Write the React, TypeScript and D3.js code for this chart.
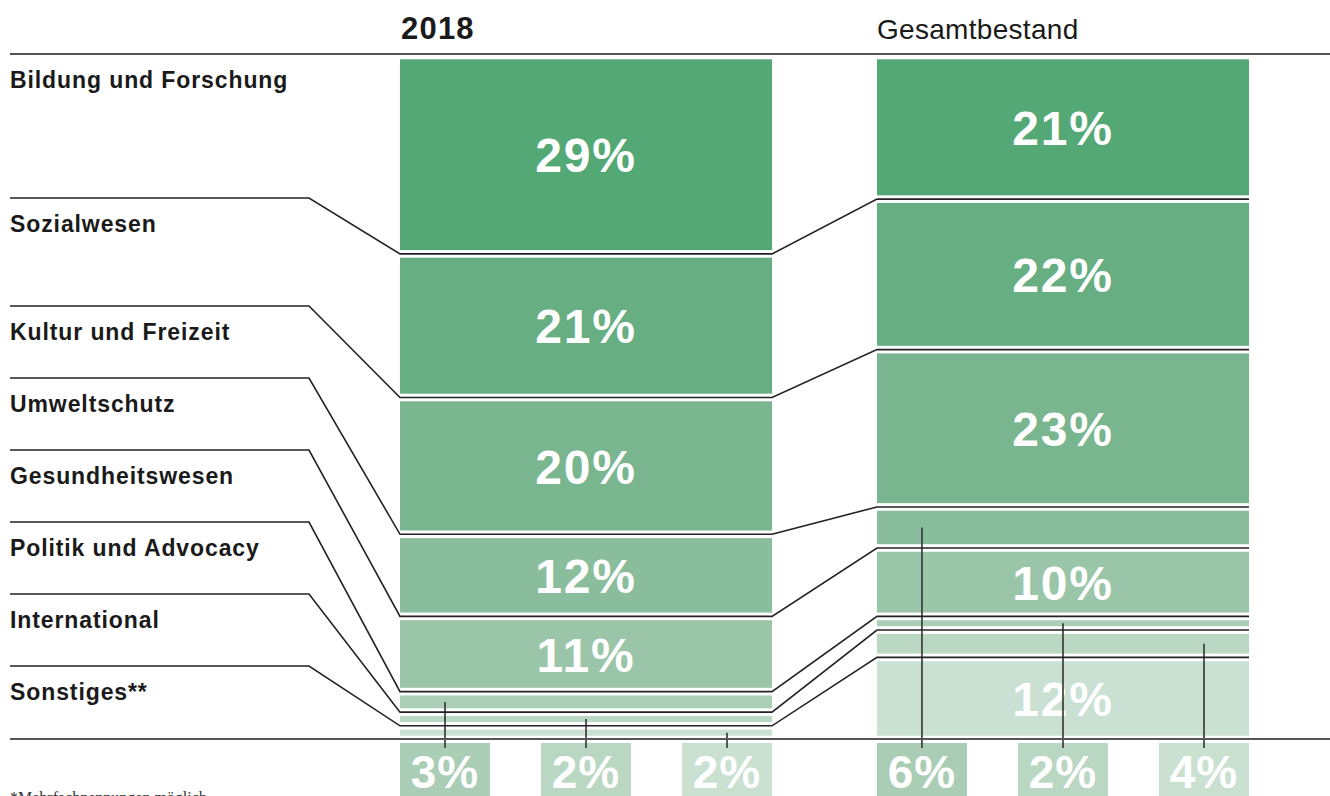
import React, { useEffect, useRef } from "react";
import * as d3 from "d3";

// categories, top to bottom
const categories = [
  "Bildung und Forschung",
  "Sozialwesen",
  "Kultur und Freizeit",
  "Umweltschutz",
  "Gesundheitswesen",
  "Politik und Advocacy",
  "International",
  "Sonstiges**",
];

// shares in percent
const columns = ["2018", "Gesamtbestand"];
const values2018 = [29, 21, 20, 12, 11, 3, 2, 2];
const valuesGesamt = [21, 22, 23, 6, 10, 2, 4, 12];

const colors = [
  "#53a876",
  "#67ae83",
  "#79b58f",
  "#8abd9b",
  "#9ac5a8",
  "#aacfb6",
  "#bad7c4",
  "#cae0d2",
];
const boxColors = ["#aacdb5", "#bad7c3", "#cae0d1"];

// label rows on the left, in multiples of one row height
const rowUnits = [2, 1.5, 1, 1, 1, 1, 1, 1];
const footnote = "*Mehrfachnennungen möglich";

export default function App({ width = 1330, height = 796 }) {
  const svgRef = useRef<SVGSVGElement | null>(null);

  useEffect(() => {
    const svg = d3.select(svgRef.current);
    svg.selectAll("*").remove();

    const font = "'Liberation Sans', Arial, sans-serif";
    const gap = 3.8;
    const rowH = 72;
    const top = 54;
    const bottom = 739;

    const x = d3.scaleBand<string>()
      .domain(columns)
      .range([400, 1249])
      .paddingInner(0.22);

    const y = d3.scaleLinear().domain([0, 100]).range([55.5, 739.5]);

    const series = [values2018, valuesGesamt].map((vals, ci) => {
      let acc = 0;
      return vals.map((v, i) => {
        const s = acc;
        acc += v;
        return { col: columns[ci], cat: categories[i], i, v, s, e: acc };
      });
    });

    // label rows
    const seps: number[] = [];
    let yy = top;
    rowUnits.forEach((u) => {
      seps.push(yy);
      yy += u * rowH;
    });

    // headers
    svg.append("text")
      .attr("x", x("2018")! + 1)
      .attr("y", 39)
      .attr("font-family", font)
      .attr("font-weight", "bold")
      .attr("font-size", 31)
      .attr("letter-spacing", 1.2)
      .attr("fill", "#1a1a1a")
      .text(columns[0]);

    svg.append("text")
      .attr("x", x("Gesamtbestand")!)
      .attr("y", 39)
      .attr("font-family", font)
      .attr("font-size", 28)
      .attr("letter-spacing", 0.3)
      .attr("fill", "#1a1a1a")
      .text(columns[1]);

    // bars
    series.forEach((ser) => {
      const g = svg.append("g");
      g.selectAll("rect")
        .data(ser)
        .join("rect")
        .attr("x", (d) => x(d.col)!)
        .attr("width", x.bandwidth())
        .attr("y", (d) => y(d.s) + gap)
        .attr("height", (d) => Math.max(0, y(d.e) - y(d.s) - 2 * gap))
        .attr("fill", (d) => colors[d.i]);

      g.selectAll("text")
        .data(ser.filter((d) => d.v >= 10))
        .join("text")
        .attr("x", (d) => x(d.col)! + x.bandwidth() / 2)
        .attr("y", (d) => (y(d.s) + y(d.e)) / 2)
        .attr("dy", "0.37em")
        .attr("text-anchor", "middle")
        .attr("font-family", font)
        .attr("font-weight", "bold")
        .attr("font-size", 48)
        .attr("letter-spacing", 1.8)
        .attr("fill", "#fff")
        .text((d) => `${d.v}%`);

      // small shares get a box below the baseline
      const small = ser.filter((d) => d.v < 10);
      const boxW = 90;
      small.forEach((d, k) => {
        const bx = x(d.col)! + (k * (x.bandwidth() - boxW)) / 2;
        g.append("rect")
          .attr("x", bx)
          .attr("y", 743)
          .attr("width", boxW)
          .attr("height", 60)
          .attr("fill", boxColors[k]);
        g.append("text")
          .attr("x", bx + boxW / 2)
          .attr("y", 788)
          .attr("text-anchor", "middle")
          .attr("font-family", font)
          .attr("font-weight", "bold")
          .attr("font-size", 46)
          .attr("letter-spacing", 1)
          .attr("fill", "#fff")
          .text(`${d.v}%`);
        g.append("line")
          .attr("x1", bx + boxW / 2)
          .attr("x2", bx + boxW / 2)
          .attr("y1", (y(d.s) + y(d.e)) / 2)
          .attr("y2", 748)
          .attr("stroke", "#333")
          .attr("stroke-width", 1.6);
      });
    });

    // connectors from label rows to both columns
    const xL = x("2018")!;
    const xR = x("Gesamtbestand")!;
    const bw = x.bandwidth();
    const conn = categories.slice(1).map((c, j) => {
      const i = j + 1;
      const p = d3.path();
      p.moveTo(10, seps[i]);
      p.lineTo(309, seps[i]);
      p.lineTo(xL, y(series[0][j].e));
      p.lineTo(xL + bw, y(series[0][j].e));
      p.lineTo(xR, y(series[1][j].e));
      p.lineTo(xR + bw, y(series[1][j].e));
      return p.toString();
    });
    svg.append("g")
      .selectAll("path")
      .data(conn)
      .join("path")
      .attr("d", (d) => d)
      .attr("fill", "none")
      .attr("stroke", "#222")
      .attr("stroke-width", 1.6);

    // top and bottom rules
    [top, bottom].forEach((ry) => {
      svg.append("line")
        .attr("x1", 10)
        .attr("x2", width)
        .attr("y1", ry)
        .attr("y2", ry)
        .attr("stroke", "#555")
        .attr("stroke-width", 2);
    });

    // category labels
    svg.append("g")
      .selectAll("text")
      .data(categories)
      .join("text")
      .attr("x", 10)
      .attr("y", (d, i) => seps[i] + 34)
      .attr("font-family", font)
      .attr("font-weight", "bold")
      .attr("font-size", 23)
      .attr("letter-spacing", 0.9)
      .attr("fill", "#1a1a1a")
      .text((d) => d);

    svg.append("text")
      .attr("x", 10)
      .attr("y", 803)
      .attr("font-family", "'Liberation Serif', serif")
      .attr("font-size", 16)
      .attr("fill", "#333")
      .text(footnote);
  }, [width, height]);

  return (
    <div style={{ position: "absolute", left: 0, top: 0 }}>
      <svg ref={svgRef} width={width} height={height} style={{ display: "block" }} />
    </div>
  );
}
